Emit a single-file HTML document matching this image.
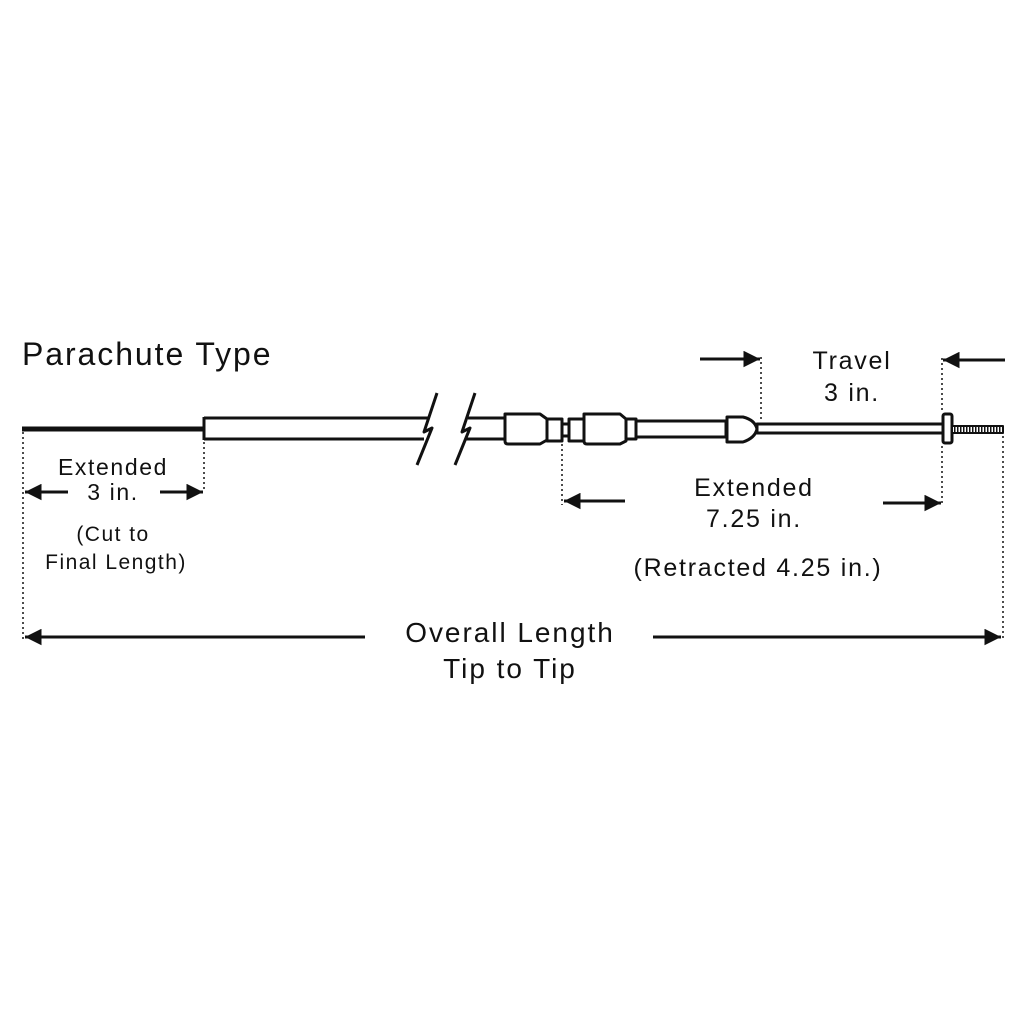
<!DOCTYPE html>
<html><head><style>
body{margin:0;background:#fff}
svg{display:block}
text{font-family:"Liberation Sans",sans-serif;fill:#111;letter-spacing:0.07em}
</style></head><body>
<svg width="1024" height="1024" viewBox="0 0 1024 1024" xmlns="http://www.w3.org/2000/svg">
<defs>
<marker id="ah" viewBox="0 0 10 10" refX="10" refY="5" markerWidth="6.5" markerHeight="5.5" orient="auto-start-reverse"><path d="M0,0 L10,5 L0,10 z" fill="#111"/></marker>
</defs>
<text x="22" y="365" font-size="32" style="letter-spacing:0.06em">Parachute Type</text>
<g stroke="#111" fill="#fff" stroke-width="3" stroke-linejoin="round">
<line x1="22" y1="429" x2="204" y2="429" stroke-width="5"/>
<path d="M204,418 H428 M204,439 H424 M204,417 V440"/>
<path d="M417,465 L432,428 L424,432 L437,393" fill="none"/>
<path d="M455,465 L470,428 L462,432 L475,393" fill="none"/>
<path d="M468,418 H505 M465,439 H505"/>
<path d="M505,414 H540 L547,419 V440 L540,444 H508 Q505,444 505,441 Z"/>
<rect x="547" y="419" width="15" height="22"/>
<rect x="562" y="424" width="7" height="12"/>
<rect x="569" y="419" width="15" height="22"/>
<path d="M584,414 H620 L626,419 V441 L620,444 H587 Q584,444 584,441 Z"/>
<rect x="626" y="419" width="10" height="20"/>
<rect x="636" y="421" width="90" height="16"/>
<path d="M727,417 H743 Q755,420 757,429 Q755,438 743,442 H727 Z"/>
<rect x="757" y="424" width="186" height="9"/>
<rect x="943" y="414" width="9" height="29" rx="2"/>
<rect x="952" y="426" width="51" height="7" stroke-width="2"/>
</g>
<line x1="954" y1="429.5" x2="1002" y2="429.5" stroke="#111" stroke-width="5" stroke-dasharray="1.5,1.5"/>
<g stroke="#111" stroke-width="1.5" stroke-dasharray="2,3">
<line x1="23" y1="432" x2="23" y2="640"/>
<line x1="204" y1="442" x2="204" y2="492"/>
<line x1="562" y1="444" x2="562" y2="505"/>
<line x1="761" y1="357" x2="761" y2="421"/>
<line x1="942" y1="358" x2="942" y2="412"/>
<line x1="942" y1="446" x2="942" y2="505"/>
<line x1="1003" y1="436" x2="1003" y2="640"/>
</g>
<g stroke="#111" stroke-width="3" marker-end="url(#ah)">
<line x1="68" y1="492" x2="25" y2="492"/>
<line x1="160" y1="492" x2="203" y2="492"/>
<line x1="625" y1="501" x2="564" y2="501"/>
<line x1="883" y1="503" x2="941" y2="503"/>
<line x1="700" y1="359" x2="760" y2="359"/>
<line x1="1005" y1="360" x2="943" y2="360"/>
<line x1="365" y1="637" x2="25" y2="637"/>
<line x1="653" y1="637" x2="1001" y2="637"/>
</g>
<g font-size="23" text-anchor="middle">
<text x="113" y="475">Extended</text>
<text x="113" y="500">3 in.</text>
<text x="113" y="541" font-size="21">(Cut to</text>
<text x="116" y="569" font-size="21">Final Length)</text>
<text x="852" y="369" font-size="25">Travel</text>
<text x="852" y="401" font-size="25">3 in.</text>
<text x="754" y="496" font-size="25">Extended</text>
<text x="754" y="527" font-size="25">7.25 in.</text>
<text x="758" y="576" font-size="25">(Retracted 4.25 in.)</text>
<text x="510" y="642" font-size="28">Overall Length</text>
<text x="510" y="678" font-size="28">Tip to Tip</text>
</g>
</svg>
</body></html>
